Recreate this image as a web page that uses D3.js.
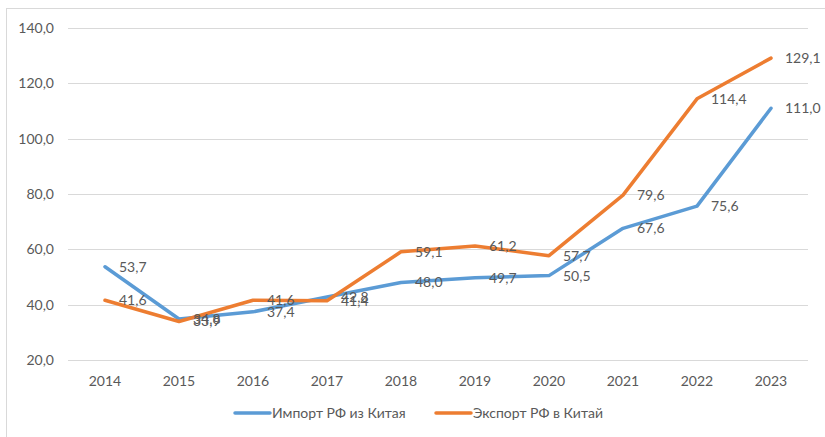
<!DOCTYPE html>
<html>
<head>
<meta charset="utf-8">
<script src="https://d3js.org/d3.v7.min.js"></script>
<style>
  body { margin: 0; background: #fff; }
  #chart { position: absolute; left: 0; top: 0; }
  text { font-family: Lato, "Open Sans", sans-serif; fill: #595959; }
</style>
</head>
<body>
<div id="chart"></div>
<script>
// data
var years = ["2014", "2015", "2016", "2017", "2018", "2019", "2020", "2021", "2022", "2023"];
var importValues = [53.7, 34.8, 37.4, 42.8, 48.0, 49.7, 50.5, 67.6, 75.6, 111.0];
var exportValues = [41.6, 33.9, 41.6, 41.4, 59.1, 61.2, 57.7, 79.6, 114.4, 129.1];
var seriesNames = ["Импорт РФ из Китая", "Экспорт РФ в Китай"];
var yTicks = [20, 40, 60, 80, 100, 120, 140];

var width = 825, height = 437;
var colors = ["#5b9bd5", "#ed7d31"];
var fmt = function(v) { return d3.format(".1f")(v).replace(".", ","); };

var svg = d3.select("#chart").append("svg")
    .attr("width", width)
    .attr("height", height);

// chart area border (left and top are visible)
svg.append("rect")
    .attr("x", 6.5).attr("y", 8.5)
    .attr("width", 830).attr("height", 440)
    .attr("fill", "none")
    .attr("stroke", "#d9d9d9");

var x = d3.scaleBand().domain(years).range([68, 808]);
var y = d3.scaleLinear().domain([20, 140]).range([360, 28]);
var cx = function(i) { return x(years[i]) + x.bandwidth() / 2; };

// gridlines
svg.append("g")
    .selectAll("line")
    .data(yTicks)
    .enter().append("line")
    .attr("x1", 68).attr("x2", 808)
    .attr("y1", function(d) { return Math.round(y(d)) + 0.5; })
    .attr("y2", function(d) { return Math.round(y(d)) + 0.5; })
    .attr("stroke", "#d9d9d9")
    .attr("stroke-width", 1);

// y labels
svg.append("g")
    .selectAll("text")
    .data(yTicks)
    .enter().append("text")
    .attr("x", 54)
    .attr("y", function(d) { return y(d); })
    .attr("dy", "0.35em")
    .attr("text-anchor", "end")
    .style("font-size", "14px")
    .text(fmt);

// x labels
svg.append("g")
    .selectAll("text")
    .data(years)
    .enter().append("text")
    .attr("x", function(d, i) { return cx(i); })
    .attr("y", 386)
    .attr("text-anchor", "middle")
    .style("font-size", "14px")
    .text(function(d) { return d; });

var line = d3.line()
    .x(function(d, i) { return cx(i); })
    .y(function(d) { return y(d); });

[importValues, exportValues].forEach(function(vals, k) {
    svg.append("path")
        .datum(vals)
        .attr("d", line)
        .attr("fill", "none")
        .attr("stroke", colors[k])
        .attr("stroke-width", 3.5)
        .attr("stroke-linejoin", "round")
        .attr("stroke-linecap", "round");
});

// data labels, to the right of each point (they overlap in places, as in the original)
[importValues, exportValues].forEach(function(vals) {
    svg.append("g")
        .selectAll("text")
        .data(vals)
        .enter().append("text")
        .attr("x", function(d, i) { return cx(i) + 14; })
        .attr("y", function(d) { return y(d); })
        .attr("dy", "0.35em")
        .style("font-size", "14px")
        .text(fmt);
});

// legend
var legendX = [234, 435];
seriesNames.forEach(function(name, k) {
    var g = svg.append("g").attr("transform", "translate(" + legendX[k] + ",413)");
    g.append("line")
        .attr("x1", 1).attr("x2", 36)
        .attr("stroke", colors[k])
        .attr("stroke-width", 3.5)
        .attr("stroke-linecap", "round");
    g.append("text")
        .attr("x", 38)
        .attr("dy", "0.35em")
        .style("font-size", "14px")
        .text(name);
});
</script>
</body>
</html>
